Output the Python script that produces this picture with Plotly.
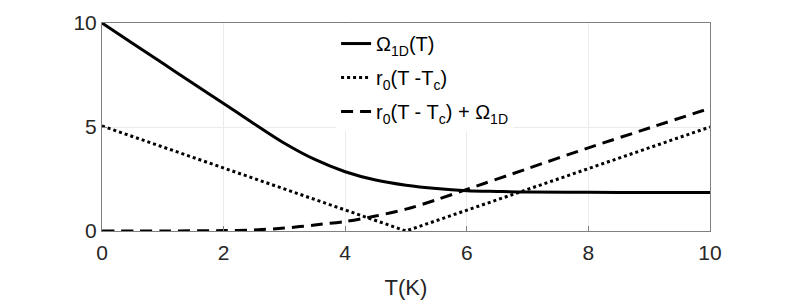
import plotly.graph_objects as go

# Data
T_omega = [0, 0.5, 1, 1.5, 2, 2.5, 3, 3.5, 4, 4.5, 5, 5.5, 6, 6.5, 7, 8, 9, 10]
omega_1d = [10, 9.03, 8.06, 7.09, 6.13, 5.16, 4.22, 3.44, 2.85, 2.45, 2.2, 2.04, 1.94, 1.9, 1.87, 1.86, 1.85, 1.85]

T_lin = [0, 5, 10]
r0_lin = [5.05, 0, 5.0]

T_sum = [0, 1, 2, 2.5, 3, 3.5, 4, 4.5, 5, 5.5, 6, 7, 8, 9, 10]
r0_sum = [0, 0, 0.02, 0.05, 0.14, 0.29, 0.46, 0.72, 1.05, 1.5, 2.0, 3.0, 4.0, 4.95, 5.9]

x_ticks = [0, 2, 4, 6, 8, 10]
y_ticks = [0, 5, 10]

FONT = "Liberation Sans"
TXT = "#262626"

fig = go.Figure()
fig.add_trace(go.Scatter(x=T_omega, y=omega_1d, mode="lines", legendgroup="a",
                         line=dict(color="black", width=3, shape="spline", smoothing=1.0),
                         name="Ω<sub>1D</sub>(T)"))
fig.add_trace(go.Scatter(x=T_lin, y=r0_lin, mode="lines", legendgroup="b",
                         line=dict(color="black", width=3, dash="3px,3px"),
                         name="r<sub>0</sub>(T -T<sub>c</sub>)"))
fig.add_trace(go.Scatter(x=T_sum, y=r0_sum, mode="lines", legendgroup="c",
                         line=dict(color="black", width=3, dash="12px,7px", shape="spline", smoothing=0.8),
                         name="r<sub>0</sub>(T - T<sub>c</sub>) + Ω<sub>1D</sub>"))

axis_common = dict(showline=True, linecolor="#808080", linewidth=1, mirror=True,
                   showgrid=True, gridcolor="#ebebeb", gridwidth=1,
                   ticks="inside", ticklen=5, tickcolor="#808080", automargin=False,
                   zeroline=False, tickfont=dict(family=FONT, size=21, color=TXT))

fig.update_xaxes(range=[0, 10], tickvals=x_ticks, ticklabelstandoff=3, **axis_common,
                 title=dict(text="T(K)", font=dict(family=FONT, size=22, color=TXT), standoff=16))
fig.update_yaxes(range=[0, 10], tickvals=y_ticks, **axis_common)

fig.update_layout(
    width=785, height=300,
    margin=dict(l=94, r=83, t=15, b=77, autoexpand=False),
    plot_bgcolor="white", paper_bgcolor="white",
    font=dict(family=FONT, size=20, color=TXT),
    showlegend=True,
    legend=dict(x=0.385, y=0.995, xanchor="left", yanchor="top",
                bgcolor="white", borderwidth=0,
                font=dict(family=FONT, size=20, color="black"),
                tracegroupgap=5, itemwidth=30),
)

fig.write_html("out.html")
